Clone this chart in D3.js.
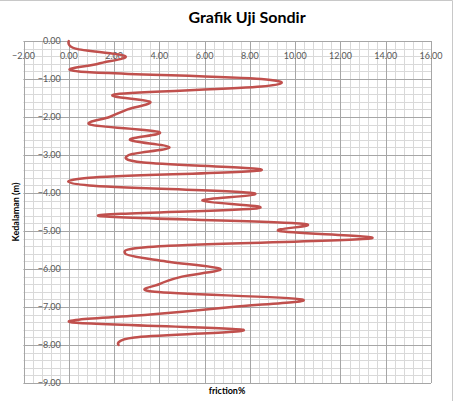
<!DOCTYPE html>
<html>
<head>
<meta charset="utf-8">
<script src="https://cdn.jsdelivr.net/npm/d3@7"></script>
<style>
  body { margin: 0; background: #fff; }
  svg text { font-family: Lato, "Open Sans", sans-serif; }
</style>
</head>
<body>
<div id="chart"></div>
<script>
// depth (m) and friction (%)
var depth = [0, -0.2, -0.4, -0.6, -0.8, -1.0, -1.2, -1.4, -1.6, -1.8,
             -2.0, -2.2, -2.4, -2.6, -2.8, -3.0, -3.2, -3.4, -3.6, -3.8,
             -4.0, -4.2, -4.4, -4.6, -4.8, -5.0, -5.2, -5.4, -5.6, -5.8,
             -6.0, -6.2, -6.4, -6.6, -6.8, -7.0, -7.2, -7.4, -7.6, -7.8, -8.0];
var friction = [0.0, 0.3, 2.5, 1.3, 0.45, 8.5, 8.5, 2.1, 3.6, 2.6,
                1.8, 0.95, 4.0, 2.7, 4.45, 2.65, 3.3, 8.5, 0.9, 0.9,
                8.1, 5.9, 8.35, 1.3, 10.2, 9.3, 13.3, 4.0, 2.5, 4.3,
                6.7, 5.0, 4.0, 3.8, 10.3, 7.2, 3.6, 0.1, 7.7, 2.9, 2.2];

var xTicks = [-2, 0, 2, 4, 6, 8, 10, 12, 14, 16];
var yTicks = [0, -1, -2, -3, -4, -5, -6, -7, -8, -9];

var W = 455, H = 401;
var svg = d3.select("#chart").append("svg").attr("width", W).attr("height", H);

var x = d3.scaleLinear().domain([-2, 16]).range([23.5, 431]);
var y = d3.scaleLinear().domain([0, -9]).range([41, 383]);

// chart border (top + right)
svg.append("path").attr("d", "M0,0.5H452.5V401")
  .attr("fill", "none").attr("stroke", "#c8c8c8");

// minor grid
var g = svg.append("g");
g.selectAll(".vminor").data(d3.range(-2, 16.001, 0.4)).enter().append("line")
  .attr("x1", d => Math.round(x(d)) + 0.5).attr("x2", d => Math.round(x(d)) + 0.5)
  .attr("y1", y(0)).attr("y2", y(-9)).attr("stroke", "#d9d9d9");
g.selectAll(".hminor").data(d3.range(0, -9.001, -0.2)).enter().append("line")
  .attr("y1", d => Math.round(y(d)) + 0.5).attr("y2", d => Math.round(y(d)) + 0.5)
  .attr("x1", x(-2)).attr("x2", x(16)).attr("stroke", "#d9d9d9");
// major grid
g.selectAll(".vmajor").data(xTicks).enter().append("line")
  .attr("x1", d => Math.round(x(d)) + 0.5).attr("x2", d => Math.round(x(d)) + 0.5)
  .attr("y1", y(0)).attr("y2", y(-9)).attr("stroke", "#a6a6a6");
g.selectAll(".hmajor").data(yTicks).enter().append("line")
  .attr("y1", d => Math.round(y(d)) + 0.5).attr("y2", d => Math.round(y(d)) + 0.5)
  .attr("x1", x(-2)).attr("x2", x(16)).attr("stroke", "#a6a6a6");

// tick labels (axes cross at 0,0 like excel)
svg.append("g").selectAll("text").data(xTicks).enter().append("text")
  .attr("x", d => x(d)).attr("y", y(0) + 18)
  .attr("text-anchor", "middle").attr("font-size", 9).attr("fill", "#595959")
  .text(d => d3.format(".2f")(d));
svg.append("g").selectAll("text").data(yTicks).enter().append("text")
  .attr("x", x(0) - 8).attr("y", d => y(d) + 3)
  .attr("text-anchor", "end").attr("font-size", 9).attr("fill", "#595959")
  .text(d => d3.format(".2f")(d));

// the sondir line
var pts = depth.map((d, i) => [friction[i], d]);
var line = d3.line().x(d => x(d[0])).y(d => y(d[1])).curve(d3.curveCardinal.tension(0));
svg.append("path").datum(pts).attr("d", line)
  .attr("fill", "none").attr("stroke", "#c0504d").attr("stroke-width", 2.5)
  .attr("stroke-linejoin", "round").attr("stroke-linecap", "round");

// titles
svg.append("text").attr("x", 247).attr("y", 23).attr("text-anchor", "middle")
  .attr("font-size", 16).attr("font-weight", "bold").attr("fill", "#000")
  .text("Grafik Uji Sondir");
svg.append("text").attr("x", 227).attr("y", 394).attr("text-anchor", "middle")
  .attr("font-size", 9).attr("font-weight", "bold").attr("fill", "#000")
  .text("friction%");
svg.append("text").attr("transform", "translate(19,212) rotate(-90)")
  .attr("text-anchor", "middle").attr("font-size", 9).attr("font-weight", "bold")
  .attr("fill", "#000").text("Kedalaman (m)");
</script>
</body>
</html>
